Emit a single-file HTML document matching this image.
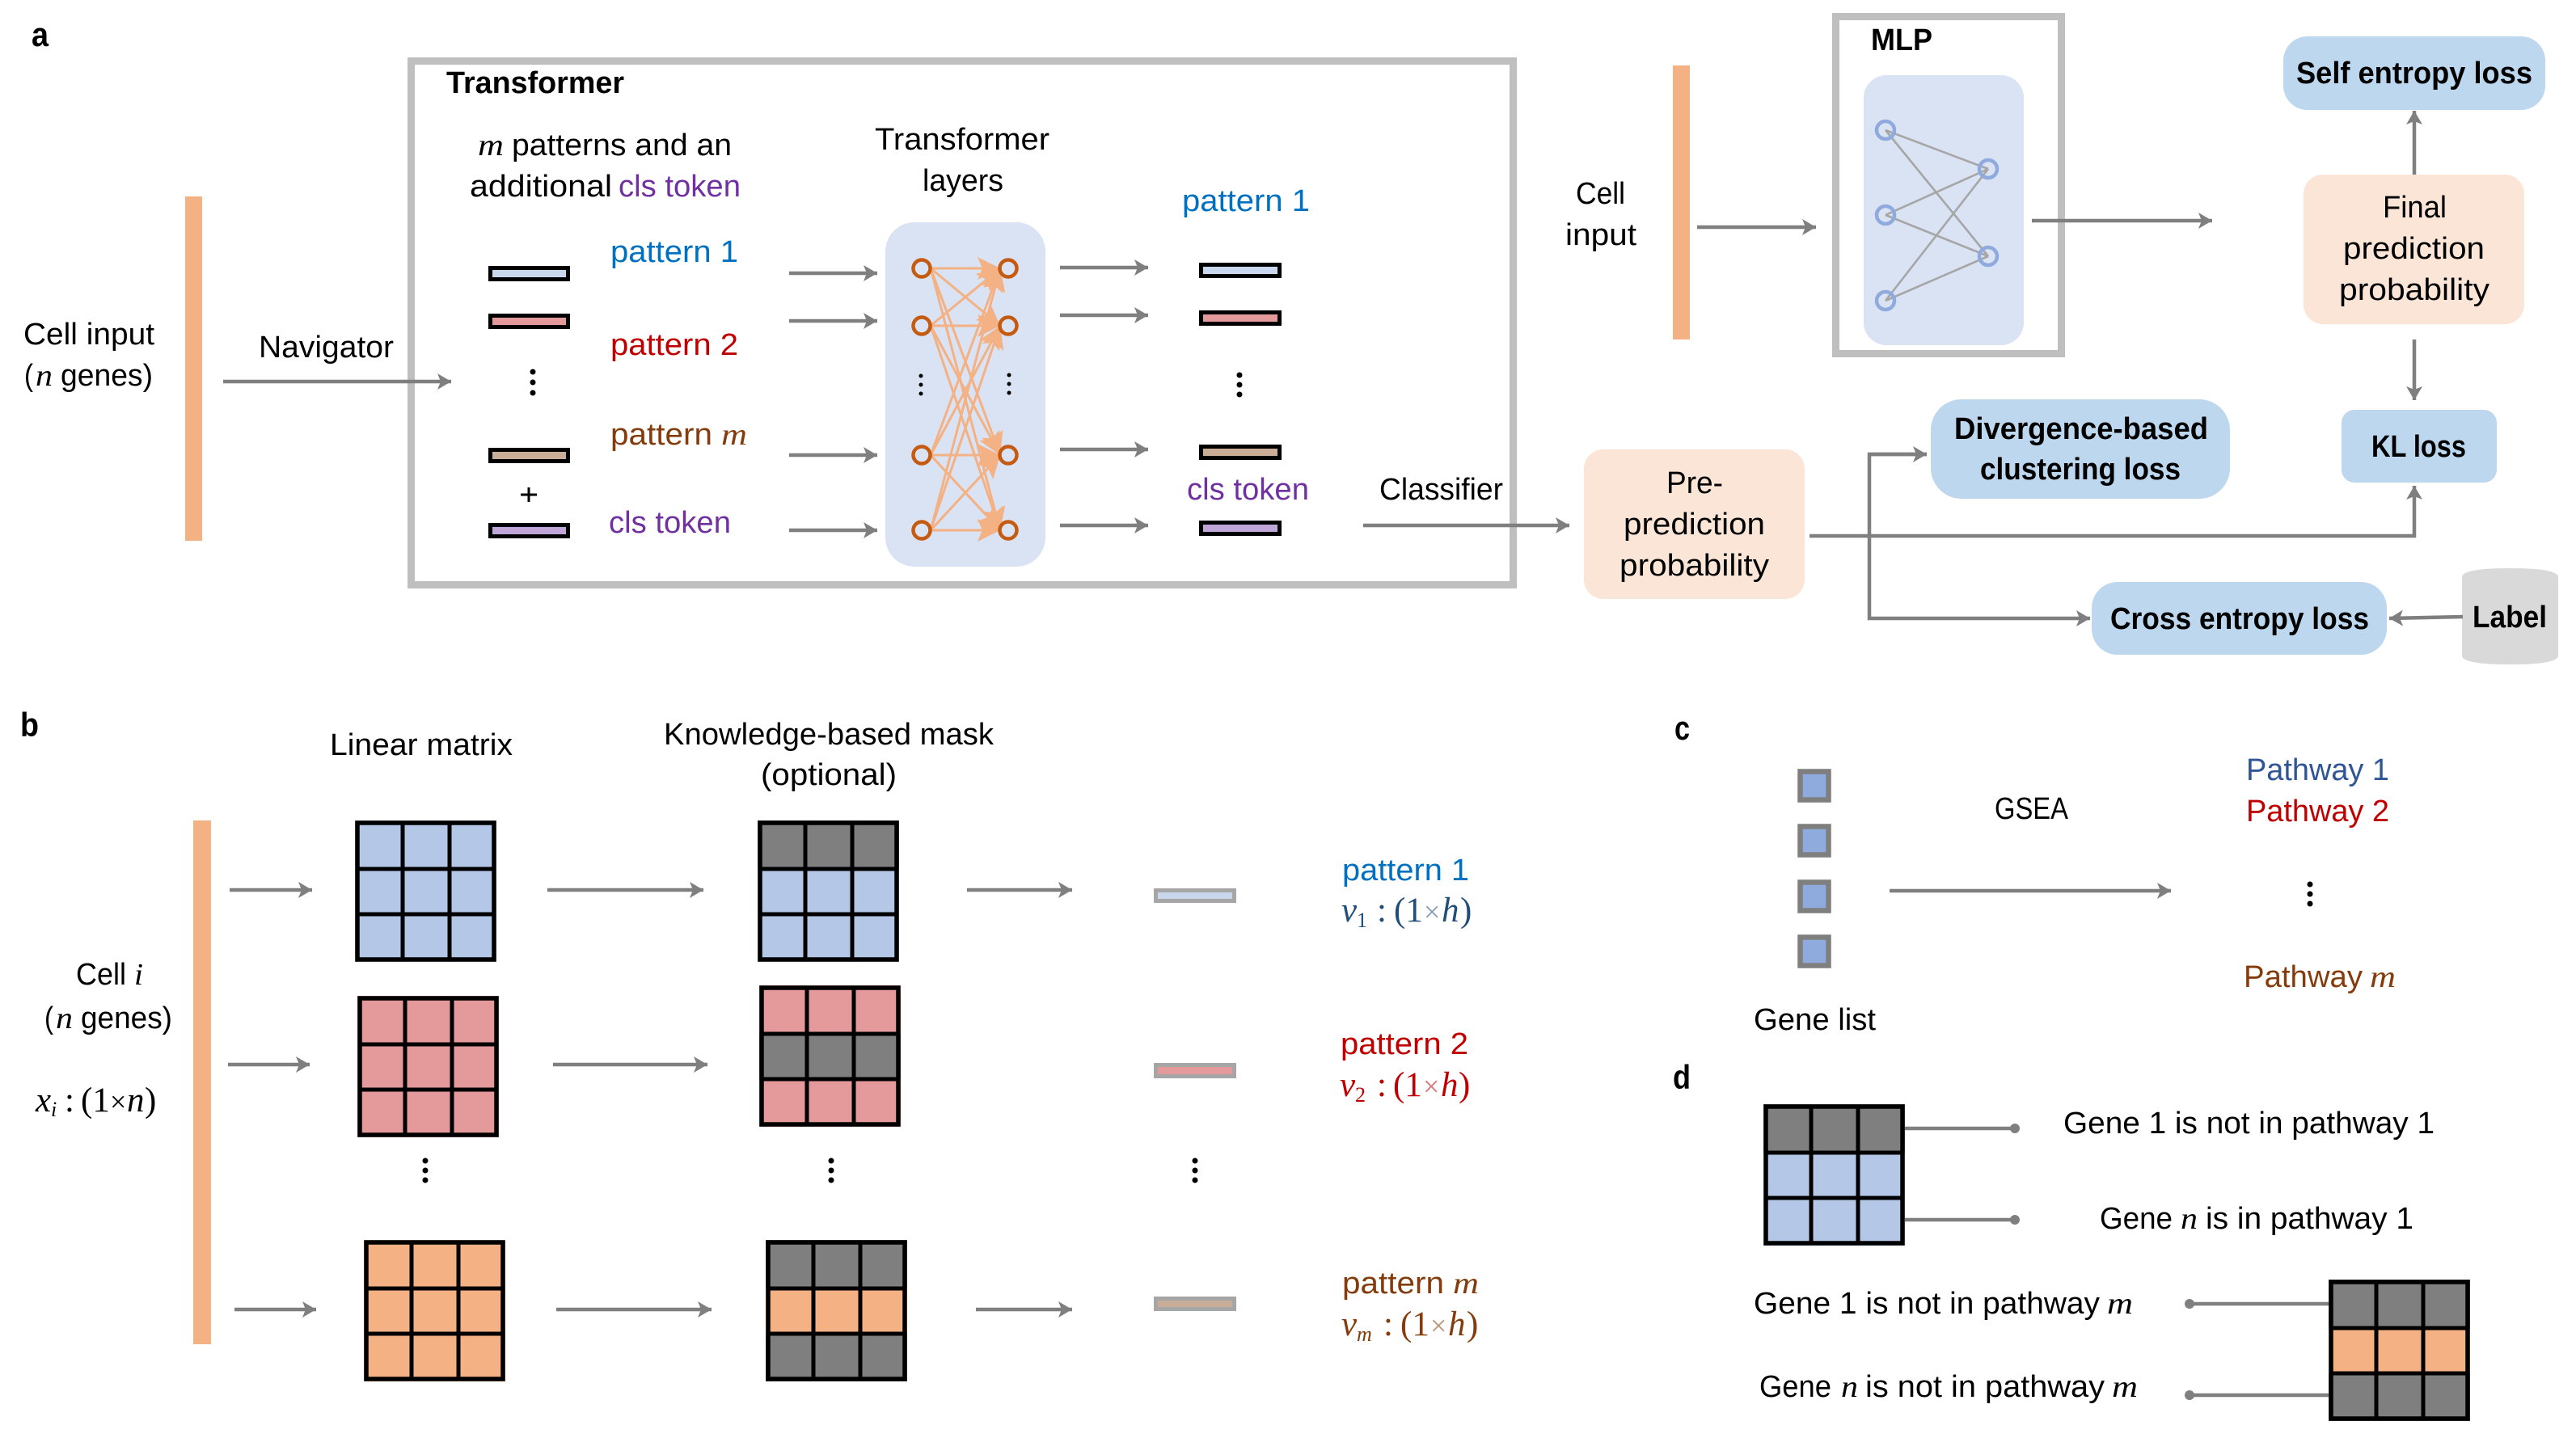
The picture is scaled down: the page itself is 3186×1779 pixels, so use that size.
<!DOCTYPE html>
<html><head><meta charset="utf-8"><style>
html,body{margin:0;padding:0;background:#fff}
svg{display:block}
text{font-family:"Liberation Sans",sans-serif;font-size:38px;fill:#000;white-space:pre}
.b{font-weight:bold}
.h{font-weight:bold;font-size:42px}
.s{font-family:"Liberation Serif",serif;font-style:italic}
.r{font-family:"Liberation Serif",serif;font-style:normal}
.z{font-size:43px}
.y{font-size:26px}
.x{font-size:36px;opacity:.55}
.blue{fill:#0070c0}.red{fill:#c00000}.brown{fill:#843c0c}.pur{fill:#7030a0}.navy{fill:#1f4e79}.pw{fill:#2f5597}
.a{stroke:#7f7f7f;stroke-width:4.5;fill:none;marker-end:url(#ah)}
.l{stroke:#7f7f7f;stroke-width:4.5;fill:none}
.e{stroke:#f4b183;stroke-width:3;marker-end:url(#oh)}
.m{stroke:#a6a6a6;stroke-width:2.6}
.pb{stroke:#000;stroke-width:5}
.gb{stroke:#a6a6a6;stroke-width:5}
.no{fill:none;stroke:#c55a11;stroke-width:4.5}
.nb{fill:none;stroke:#8faadc;stroke-width:4.5}
.sq{fill:#8faadc;stroke:#7f7f7f;stroke-width:6.5}
</style></head><body>
<svg width="3186" height="1779" viewBox="0 0 3186 1779" xmlns="http://www.w3.org/2000/svg">
<defs>
<marker id="ah" markerUnits="userSpaceOnUse" markerWidth="20" markerHeight="24" refX="17" refY="12" orient="auto"><path d="M0,2 L17,12 L0,22 L4,12 Z" fill="#7f7f7f"/></marker>
<marker id="oh" markerUnits="userSpaceOnUse" markerWidth="32" markerHeight="32" refX="28" refY="16" orient="auto"><path d="M0,2 L28,16 L0,30 L6,16 Z" fill="#f4b183"/></marker>
<g id="gl"><rect x="3" y="3" width="169" height="169" fill="none" stroke="#000" stroke-width="5.5"/><path d="M59,3V172M117,3V172M3,60H172M3,116H172" stroke="#000" stroke-width="5" fill="none"/></g>
<g id="gblue"><rect width="175" height="175" fill="#b4c7e7"/><use href="#gl"/></g>
<g id="gred"><rect width="175" height="175" fill="#e49a9a"/><use href="#gl"/></g>
<g id="gora"><rect width="175" height="175" fill="#f4b183"/><use href="#gl"/></g>
<g id="mblue"><rect width="175" height="175" fill="#b4c7e7"/><rect width="175" height="60" fill="#7f7f7f"/><use href="#gl"/></g>
<g id="mred"><rect width="175" height="175" fill="#e49a9a"/><rect y="60" width="175" height="56" fill="#7f7f7f"/><use href="#gl"/></g>
<g id="mora"><rect width="175" height="175" fill="#7f7f7f"/><rect y="60" width="175" height="56" fill="#f4b183"/><use href="#gl"/></g>
</defs>

<!-- a: transformer -->
<rect x="508.500" y="75.500" width="1363" height="648" fill="#fff" stroke="#bfbfbf" stroke-width="9"/>
<rect x="229" y="243" width="21" height="426" fill="#f4b183"/>
<text class="h" x="39" y="57" textLength="21" lengthAdjust="spacingAndGlyphs">a</text>
<text class="b" x="552" y="115" textLength="220" lengthAdjust="spacingAndGlyphs">Transformer</text>
<text x="591" y="192" class="s" textLength="32" lengthAdjust="spacingAndGlyphs">m</text>
<text x="633" y="192" textLength="272" lengthAdjust="spacingAndGlyphs">patterns and an</text>
<text x="581" y="243" textLength="176" lengthAdjust="spacingAndGlyphs">additional</text>
<text x="765" y="243" class="pur" textLength="151" lengthAdjust="spacingAndGlyphs">cls token</text>
<text x="755" y="324" class="blue" textLength="158" lengthAdjust="spacingAndGlyphs">pattern 1</text>
<text x="755" y="439" class="red" textLength="158" lengthAdjust="spacingAndGlyphs">pattern 2</text>
<text x="755" y="550" class="brown" textLength="126" lengthAdjust="spacingAndGlyphs">pattern</text>
<text x="892" y="550" class="s brown" textLength="32" lengthAdjust="spacingAndGlyphs">m</text>
<text x="753" y="659" class="pur" textLength="151" lengthAdjust="spacingAndGlyphs">cls token</text>
<text x="29" y="426" textLength="162" lengthAdjust="spacingAndGlyphs">Cell input</text>
<text x="30" y="477" textLength="11" lengthAdjust="spacingAndGlyphs">(</text>
<text x="44" y="477" class="s" textLength="21" lengthAdjust="spacingAndGlyphs">n</text>
<text x="75" y="477" textLength="114" lengthAdjust="spacingAndGlyphs">genes)</text>
<text x="320" y="442" textLength="167" lengthAdjust="spacingAndGlyphs">Navigator</text>
<line class="a" x1="276" y1="472" x2="558" y2="472"/>
<rect class="pb" x="606.500" y="331.500" width="96" height="14" fill="#c9d7ec"/>
<rect class="pb" x="606.500" y="390.500" width="96" height="14" fill="#e49a9a"/>
<rect class="pb" x="606.500" y="556.500" width="96" height="14" fill="#c9ad96"/>
<rect class="pb" x="606.500" y="649.500" width="96" height="14" fill="#c0a6d8"/>
<circle cx="659" cy="460" r="3.500"/><circle cx="659" cy="473" r="3.500"/><circle cx="659" cy="486" r="3.500"/>
<path d="M644,612H664M654,603V621" stroke="#000" stroke-width="3" fill="none"/>
<line class="a" x1="976" y1="338" x2="1085" y2="338"/>
<line class="a" x1="976" y1="397" x2="1085" y2="397"/>
<line class="a" x1="976" y1="563" x2="1085" y2="563"/>
<line class="a" x1="976" y1="656" x2="1085" y2="656"/>
<text x="1082" y="185" textLength="216" lengthAdjust="spacingAndGlyphs">Transformer</text>
<text x="1141" y="236" textLength="100" lengthAdjust="spacingAndGlyphs">layers</text>
<rect x="1095" y="275" width="198" height="426" rx="36" fill="#dae3f3"/>
<g>
<line class="e" x1="1151" y1="332" x2="1237" y2="332"/><line class="e" x1="1151" y1="332" x2="1237" y2="403"/><line class="e" x1="1151" y1="332" x2="1237" y2="563"/><line class="e" x1="1151" y1="332" x2="1237" y2="656"/>
<line class="e" x1="1151" y1="403" x2="1237" y2="332"/><line class="e" x1="1151" y1="403" x2="1237" y2="403"/><line class="e" x1="1151" y1="403" x2="1237" y2="563"/><line class="e" x1="1151" y1="403" x2="1237" y2="656"/>
<line class="e" x1="1151" y1="563" x2="1237" y2="332"/><line class="e" x1="1151" y1="563" x2="1237" y2="403"/><line class="e" x1="1151" y1="563" x2="1237" y2="563"/><line class="e" x1="1151" y1="563" x2="1237" y2="656"/>
<line class="e" x1="1151" y1="656" x2="1237" y2="332"/><line class="e" x1="1151" y1="656" x2="1237" y2="403"/><line class="e" x1="1151" y1="656" x2="1237" y2="563"/><line class="e" x1="1151" y1="656" x2="1237" y2="656"/>
</g>
<circle class="no" cx="1140" cy="332" r="10.500"/><circle class="no" cx="1140" cy="403" r="10.500"/><circle class="no" cx="1140" cy="563" r="10.500"/><circle class="no" cx="1140" cy="656" r="10.500"/>
<circle class="no" cx="1247" cy="332" r="10.500"/><circle class="no" cx="1247" cy="403" r="10.500"/><circle class="no" cx="1247" cy="563" r="10.500"/><circle class="no" cx="1247" cy="656" r="10.500"/>
<circle cx="1139" cy="465" r="2.500"/><circle cx="1139" cy="476" r="2.500"/><circle cx="1139" cy="487" r="2.500"/>
<circle cx="1248" cy="464" r="2.500"/><circle cx="1248" cy="475" r="2.500"/><circle cx="1248" cy="486" r="2.500"/>
<line class="a" x1="1311" y1="331" x2="1420" y2="331"/>
<line class="a" x1="1311" y1="390" x2="1420" y2="390"/>
<line class="a" x1="1311" y1="556" x2="1420" y2="556"/>
<line class="a" x1="1311" y1="650" x2="1420" y2="650"/>
<text x="1462" y="261" class="blue" textLength="158" lengthAdjust="spacingAndGlyphs">pattern 1</text>
<rect class="pb" x="1485.500" y="327.500" width="97" height="14" fill="#c9d7ec"/>
<rect class="pb" x="1485.500" y="386.500" width="97" height="14" fill="#e49a9a"/>
<rect class="pb" x="1485.500" y="552.500" width="97" height="14" fill="#c9ad96"/>
<rect class="pb" x="1485.500" y="646.500" width="97" height="14" fill="#c0a6d8"/>
<circle cx="1533" cy="464" r="3.500"/><circle cx="1533" cy="476" r="3.500"/><circle cx="1533" cy="488" r="3.500"/>
<text x="1468" y="618" class="pur" textLength="151" lengthAdjust="spacingAndGlyphs">cls token</text>
<text x="1706" y="618" textLength="153" lengthAdjust="spacingAndGlyphs">Classifier</text>
<line class="a" x1="1686" y1="650" x2="1941" y2="650"/>

<!-- a: MLP -->
<text x="1949" y="252" textLength="61" lengthAdjust="spacingAndGlyphs">Cell</text>
<text x="1936" y="303" textLength="88" lengthAdjust="spacingAndGlyphs">input</text>
<rect x="2069" y="81" width="21" height="339" fill="#f4b183"/>
<line class="a" x1="2099" y1="281" x2="2246" y2="281"/>
<rect x="2270.500" y="20.500" width="279" height="417" fill="#fff" stroke="#bfbfbf" stroke-width="9"/>
<text class="b" x="2314" y="62" textLength="76" lengthAdjust="spacingAndGlyphs">MLP</text>
<rect x="2305" y="93" width="198" height="334" rx="28" fill="#dae3f3"/>
<line class="m" x1="2332" y1="161" x2="2459" y2="209"/><line class="m" x1="2332" y1="161" x2="2459" y2="317"/>
<line class="m" x1="2332" y1="266" x2="2459" y2="209"/><line class="m" x1="2332" y1="266" x2="2459" y2="317"/>
<line class="m" x1="2332" y1="372" x2="2459" y2="209"/><line class="m" x1="2332" y1="372" x2="2459" y2="317"/>
<circle class="nb" cx="2332" cy="161" r="11"/><circle class="nb" cx="2332" cy="266" r="11"/><circle class="nb" cx="2332" cy="372" r="11"/>
<circle class="nb" cx="2459" cy="209" r="11"/><circle class="nb" cx="2459" cy="317" r="11"/>
<line class="a" x1="2513" y1="273" x2="2736" y2="273"/>

<rect x="2849" y="216" width="273" height="185" rx="24" fill="#fbe5d6"/>
<text x="2947" y="269" textLength="79" lengthAdjust="spacingAndGlyphs">Final</text>
<text x="2898" y="320" textLength="175" lengthAdjust="spacingAndGlyphs">prediction</text>
<text x="2893" y="371" textLength="186" lengthAdjust="spacingAndGlyphs">probability</text>
<rect x="2824" y="45" width="324" height="91" rx="30" fill="#bdd7ee"/>
<text class="b" x="2840" y="103" textLength="292" lengthAdjust="spacingAndGlyphs">Self entropy loss</text>
<line class="a" x1="2986" y1="216" x2="2986" y2="137"/>
<line class="a" x1="2986" y1="420" x2="2986" y2="495"/>
<rect x="2896" y="507" width="192" height="90" rx="16" fill="#bdd7ee"/>
<text class="b" x="2933" y="565" textLength="117" lengthAdjust="spacingAndGlyphs">KL loss</text>
<rect x="2388" y="494" width="370" height="123" rx="38" fill="#bdd7ee"/>
<text class="b" x="2417" y="543" textLength="314" lengthAdjust="spacingAndGlyphs">Divergence-based</text>
<text class="b" x="2449" y="593" textLength="248" lengthAdjust="spacingAndGlyphs">clustering loss</text>
<rect x="1959" y="556" width="273" height="185" rx="24" fill="#fbe5d6"/>
<text x="2061" y="610" textLength="70" lengthAdjust="spacingAndGlyphs">Pre-</text>
<text x="2008" y="661" textLength="175" lengthAdjust="spacingAndGlyphs">prediction</text>
<text x="2003" y="712" textLength="185" lengthAdjust="spacingAndGlyphs">probability</text>
<path class="a" d="M2238,663 H2986 V601"/>
<path class="a" d="M2383,562 H2312 V765 H2585"/>
<line class="a" x1="2312" y1="562" x2="2383" y2="562"/>
<rect x="2587" y="720" width="365" height="90" rx="32" fill="#bdd7ee"/>
<text class="b" x="2610" y="778" textLength="320" lengthAdjust="spacingAndGlyphs">Cross entropy loss</text>
<path d="M3045,714 Q3045,703 3104,703 Q3164,703 3164,714 V811 Q3164,822 3104,822 Q3045,822 3045,811 Z" fill="#d9d9d9"/>
<text class="b" x="3058" y="776" textLength="92" lengthAdjust="spacingAndGlyphs">Label</text>
<line class="a" x1="3046" y1="763" x2="2955" y2="765"/>

<!-- b -->
<text class="h" x="25" y="911" textLength="23" lengthAdjust="spacingAndGlyphs">b</text>
<text x="408" y="934" textLength="226" lengthAdjust="spacingAndGlyphs">Linear matrix</text>
<text x="821" y="921" textLength="408" lengthAdjust="spacingAndGlyphs">Knowledge-based mask</text>
<text x="941" y="971" textLength="168" lengthAdjust="spacingAndGlyphs">(optional)</text>
<rect x="239" y="1015" width="22" height="648" fill="#f4b183"/>
<text x="94" y="1218" textLength="62" lengthAdjust="spacingAndGlyphs">Cell</text>
<text x="166" y="1218" class="s" textLength="11" lengthAdjust="spacingAndGlyphs">i</text>
<text x="55" y="1272" textLength="11" lengthAdjust="spacingAndGlyphs">(</text>
<text x="69" y="1272" class="s" textLength="21" lengthAdjust="spacingAndGlyphs">n</text>
<text x="100" y="1272" textLength="113" lengthAdjust="spacingAndGlyphs">genes)</text>
<text x="44" y="1375" class="s z">x</text>
<text x="63" y="1381" class="s y">i</text>
<text x="80" y="1375" class="r z">:</text>
<text x="100" y="1375" class="r z">(1</text>
<text x="136" y="1375" class="r" style="font-size:36px">×</text>
<text x="157" y="1375" class="s z">n</text>
<text x="179" y="1375" class="r z">)</text>

<use href="#gblue" x="439" y="1015"/>
<use href="#gred" x="442" y="1232"/>
<use href="#gora" x="450" y="1534"/>
<use href="#mblue" x="937" y="1015"/>
<use href="#mred" x="939" y="1219"/>
<use href="#mora" x="947" y="1534"/>
<line class="a" x1="284" y1="1101" x2="386" y2="1101"/>
<line class="a" x1="282" y1="1317" x2="383" y2="1317"/>
<line class="a" x1="290" y1="1620" x2="391" y2="1620"/>
<line class="a" x1="677" y1="1101" x2="870" y2="1101"/>
<line class="a" x1="684" y1="1317" x2="875" y2="1317"/>
<line class="a" x1="688" y1="1620" x2="880" y2="1620"/>
<line class="a" x1="1196" y1="1101" x2="1326" y2="1101"/>
<line class="a" x1="1207" y1="1620" x2="1326" y2="1620"/>
<circle cx="526" cy="1436" r="3.500"/><circle cx="526" cy="1448" r="3.500"/><circle cx="526" cy="1460" r="3.500"/>
<circle cx="1028" cy="1436" r="3.500"/><circle cx="1028" cy="1448" r="3.500"/><circle cx="1028" cy="1460" r="3.500"/>
<circle cx="1478" cy="1436" r="3.500"/><circle cx="1478" cy="1448" r="3.500"/><circle cx="1478" cy="1460" r="3.500"/>
<rect class="gb" x="1429.500" y="1101.500" width="97" height="13" fill="#c9d7ec"/>
<rect class="gb" x="1429.500" y="1317.500" width="97" height="14" fill="#e49a9a"/>
<rect class="gb" x="1429.500" y="1606.500" width="97" height="13" fill="#c9ad96"/>
<text x="1660" y="1089" class="blue" textLength="157" lengthAdjust="spacingAndGlyphs">pattern 1</text>
<text x="1659" y="1140" class="s navy z">v</text><text x="1678" y="1147" class="r navy y">1</text>
<text x="1703" y="1140" class="r navy z">:</text>
<text x="1724" y="1140" class="r navy z">(1</text><text x="1761" y="1140" class="r navy x">×</text>
<text x="1783" y="1140" class="s navy z">h</text><text x="1806" y="1140" class="r navy z">)</text>
<text x="1658" y="1304" class="red" textLength="158" lengthAdjust="spacingAndGlyphs">pattern 2</text>
<text x="1657" y="1356" class="s red z">v</text><text x="1676" y="1363" class="r red y">2</text>
<text x="1703" y="1356" class="r red z">:</text>
<text x="1723" y="1356" class="r red z">(1</text><text x="1760" y="1356" class="r red x">×</text>
<text x="1782" y="1356" class="s red z">h</text><text x="1804" y="1356" class="r red z">)</text>
<text x="1660" y="1600" class="brown" textLength="126" lengthAdjust="spacingAndGlyphs">pattern</text>
<text x="1797" y="1600" class="s brown" textLength="32" lengthAdjust="spacingAndGlyphs">m</text>
<text x="1659" y="1652" class="s brown z">v</text><text x="1678" y="1659" class="s brown y">m</text>
<text x="1711" y="1652" class="r brown z">:</text>
<text x="1732" y="1652" class="r brown z">(1</text><text x="1769" y="1652" class="r brown x">×</text>
<text x="1791" y="1652" class="s brown z">h</text><text x="1814" y="1652" class="r brown z">)</text>

<!-- c -->
<text class="h" x="2071" y="915" textLength="19" lengthAdjust="spacingAndGlyphs">c</text>
<rect class="sq" x="2226.500" y="954.500" width="35" height="35"/>
<rect class="sq" x="2226.500" y="1022.500" width="35" height="35"/>
<rect class="sq" x="2226.500" y="1091.500" width="35" height="35"/>
<rect class="sq" x="2226.500" y="1159.500" width="35" height="35"/>
<text x="2467" y="1013" textLength="91" lengthAdjust="spacingAndGlyphs">GSEA</text>
<line class="a" x1="2337" y1="1102" x2="2685" y2="1102"/>
<text x="2778" y="965" class="pw" textLength="177" lengthAdjust="spacingAndGlyphs">Pathway 1</text>
<text x="2778" y="1016" class="red" textLength="177" lengthAdjust="spacingAndGlyphs">Pathway 2</text>
<circle cx="2857" cy="1094" r="3.500"/><circle cx="2857" cy="1106" r="3.500"/><circle cx="2857" cy="1118" r="3.500"/>
<text x="2775" y="1221" class="brown" textLength="147" lengthAdjust="spacingAndGlyphs">Pathway</text>
<text x="2931" y="1221" class="s brown" textLength="32" lengthAdjust="spacingAndGlyphs">m</text>
<text x="2169" y="1274" textLength="151" lengthAdjust="spacingAndGlyphs">Gene list</text>

<!-- d -->
<text class="h" x="2069" y="1347" textLength="22" lengthAdjust="spacingAndGlyphs">d</text>
<line class="l" x1="2354" y1="1396" x2="2492" y2="1396"/><circle cx="2492" cy="1396" r="6" fill="#7f7f7f"/>
<line class="l" x1="2354" y1="1509" x2="2492" y2="1509"/><circle cx="2492" cy="1509" r="6" fill="#7f7f7f"/>
<use href="#mblue" x="2181" y="1366"/>
<text x="2552" y="1402" textLength="459" lengthAdjust="spacingAndGlyphs">Gene 1 is not in pathway 1</text>
<text x="2597" y="1520" textLength="90" lengthAdjust="spacingAndGlyphs">Gene</text>
<text x="2697" y="1520" class="s" textLength="21" lengthAdjust="spacingAndGlyphs">n</text>
<text x="2728" y="1520" textLength="257" lengthAdjust="spacingAndGlyphs">is in pathway 1</text>
<text x="2169" y="1625" textLength="428" lengthAdjust="spacingAndGlyphs">Gene 1 is not in pathway</text>
<text x="2606" y="1625" class="s" textLength="32" lengthAdjust="spacingAndGlyphs">m</text>
<text x="2176" y="1728" textLength="89" lengthAdjust="spacingAndGlyphs">Gene</text>
<text x="2277" y="1728" class="s" textLength="21" lengthAdjust="spacingAndGlyphs">n</text>
<text x="2307" y="1728" textLength="296" lengthAdjust="spacingAndGlyphs">is not in pathway</text>
<text x="2612" y="1728" class="s" textLength="32" lengthAdjust="spacingAndGlyphs">m</text>
<line class="l" x1="2708" y1="1613" x2="2882" y2="1613"/><circle cx="2708" cy="1613" r="6" fill="#7f7f7f"/>
<line class="l" x1="2708" y1="1726" x2="2882" y2="1726"/><circle cx="2708" cy="1726" r="6" fill="#7f7f7f"/>
<use href="#mora" x="2880" y="1583"/>
</svg>
</body></html>
